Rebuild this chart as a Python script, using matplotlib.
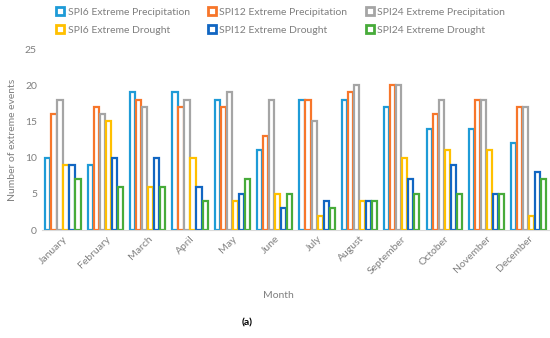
import matplotlib.pyplot as plt
import numpy as np
from matplotlib.patches import Patch

plt.rcParams['font.family'] = ['Lato', 'DejaVu Sans']

months = ["January", "February", "March", "April", "May", "June", "July",
          "August", "September", "October", "November", "December"]
spi6_prec = [10, 9, 19, 19, 18, 11, 18, 18, 17, 14, 14, 12]
spi12_prec = [16, 17, 18, 17, 17, 13, 18, 19, 20, 16, 18, 17]
spi24_prec = [18, 16, 17, 18, 19, 18, 15, 20, 20, 18, 18, 17]
spi6_drought = [9, 15, 6, 10, 4, 5, 2, 4, 10, 11, 11, 2]
spi12_drought = [9, 10, 10, 6, 5, 3, 4, 4, 7, 9, 5, 8]
spi24_drought = [7, 6, 6, 4, 7, 5, 3, 4, 5, 5, 5, 7]

series = [spi6_prec, spi12_prec, spi24_prec, spi6_drought, spi12_drought, spi24_drought]
labels = ["SPI6 Extreme Precipitation", "SPI12 Extreme Precipitation",
          "SPI24 Extreme Precipitation", "SPI6 Extreme Drought",
          "SPI12 Extreme Drought", "SPI24 Extreme Drought"]
colors = ["#1E9BD7", "#F7762A", "#A5A5A5", "#FFC000", "#1166C2", "#47AB3A"]

grey = "#7f7f7f"
fig = plt.figure(figsize=(5.5, 3.38), dpi=100)
ax = fig.add_axes([0.076, 0.3195, 0.924, 0.5355])

x = np.arange(len(months))
w = 0.142
for i, (vals, c) in enumerate(zip(series, colors)):
    ax.bar(x + (i - 2.5) * w, vals, w * 0.85, facecolor="white",
           edgecolor=c, linewidth=1.6)

ax.set_xlim(-0.5, 11.5)
ax.set_ylim(0, 25)
ax.set_yticks(range(0, 26, 5))
ax.set_xticks(x)
ax.set_xticklabels(months, rotation=45, ha="right", rotation_mode="anchor",
                   fontsize=7.5, color=grey)
ax.tick_params(axis="y", labelsize=7.5, labelcolor=grey, length=0)
ax.tick_params(axis="x", length=0, pad=3)
for s in ["top", "right", "left"]:
    ax.spines[s].set_visible(False)
ax.spines["bottom"].set_color("#d9d9d9")

ax.set_ylabel("Number of extreme events", fontsize=7.5, color=grey, labelpad=6)
fig.text(0.507, 0.127, "Month", fontsize=7.5, color=grey, ha="center", va="center")
fig.text(0.45, 0.045, "(a)", fontsize=7.5, fontweight="bold", ha="center", va="center")

handles = [Patch(facecolor="white", edgecolor=c, linewidth=2) for c in colors]
order = [0, 3, 1, 4, 2, 5]
fig.legend([handles[i] for i in order], [labels[i] for i in order],
           loc="upper left", bbox_to_anchor=(0.085, 1.006), ncol=3, frameon=False,
           fontsize=7.5, labelcolor=grey, handlelength=0.8, handleheight=0.8,
           handletextpad=0.3, columnspacing=1.75, labelspacing=0.8)

fig.savefig("out.png", dpi=100)
